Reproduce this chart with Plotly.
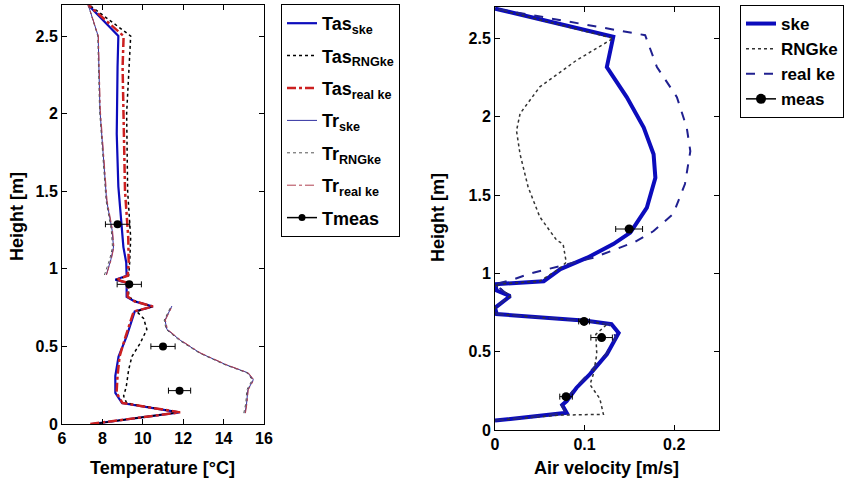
import plotly.graph_objects as go

# ---- left panel: temperature profiles (height in m, temperature in degC)
h_tas_ske = [0, 0.075, 0.135, 0.2, 0.31, 0.435, 0.565, 0.69, 0.725, 0.757, 0.79, 0.82, 0.91, 0.93, 0.955, 1.04, 1.14, 1.53, 1.87, 2.3, 2.5, 2.7]
t_tas_ske = [7.48, 11.8, 8.97, 8.64, 8.64, 8.8, 9.2, 9.54, 9.6, 10.5, 9.6, 9.2, 9.2, 8.64, 9.2, 9.18, 9.04, 8.79, 8.71, 8.75, 8.79, 7.3]

h_tas_rng = [0, 0.075, 0.135, 0.18, 0.24, 0.35, 0.435, 0.52, 0.61, 0.68, 0.725, 0.757, 0.79, 0.82, 0.91, 0.93, 0.955, 1.04, 1.2, 1.5, 2.0, 2.3, 2.5, 2.7]
t_tas_rng = [7.55, 11.75, 9.2, 9.05, 9.18, 9.3, 9.46, 9.87, 10.2, 10.04, 9.7, 10.45, 9.65, 9.3, 9.3, 8.7, 9.3, 9.35, 9.4, 9.25, 9.2, 9.3, 9.4, 7.35]

h_tas_real = [0, 0.075, 0.135, 0.2, 0.31, 0.435, 0.565, 0.69, 0.725, 0.757, 0.79, 0.82, 0.91, 0.93, 0.955, 1.04, 1.2, 1.5, 1.9, 2.3, 2.5, 2.7]
t_tas_real = [7.4, 11.85, 9.0, 8.7, 8.75, 8.85, 9.15, 9.45, 9.55, 10.5, 9.6, 9.25, 9.25, 8.7, 9.25, 9.3, 9.28, 9.12, 9.05, 9.0, 9.05, 7.3]

h_tr = [0.07, 0.135, 0.22, 0.285, 0.33, 0.38, 0.457, 0.54, 0.61, 0.67, 0.76, None, 0.96, 1.06, 1.14, 1.25, 1.44, 2.02, 2.5, 2.7]
t_tr_ske = [15.06, 15.14, 15.2, 15.47, 15.2, 14.15, 12.84, 11.85, 11.19, 11.1, 11.44, None, 8.19, 8.42, 8.55, 8.48, 8.21, 7.88, 7.79, 7.3]
t_tr_rng = [15.0, 15.1, 15.15, 15.42, 15.15, 14.1, 12.8, 11.8, 11.15, 11.06, 11.4, None, 8.1, 8.36, 8.5, 8.44, 8.18, 7.86, 7.77, 7.3]
t_tr_real = [15.08, 15.16, 15.22, 15.5, 15.22, 14.18, 12.87, 11.88, 11.22, 11.12, 11.46, None, 8.2, 8.44, 8.57, 8.5, 8.23, 7.9, 7.8, 7.3]

h_tmeas = [0.215, 0.5, 0.9, 1.287]
t_tmeas = [11.82, 11.0, 9.33, 8.75]
t_tmeas_err = [0.55, 0.6, 0.6, 0.6]

# ---- right panel: air velocity profiles (m/s)
h_ske = [0.06, 0.11, 0.16, 0.185, 0.27, 0.357, 0.485, 0.59, 0.62, 0.675, 0.697, 0.74, 0.78, 0.855, 0.89, 0.93, 0.95, 1.027, 1.1, 1.187, 1.26, 1.42, 1.61, 1.76, 1.93, 2.125, 2.317, 2.51, 2.69]
v_ske = [0, 0.08, 0.075, 0.08, 0.091, 0.106, 0.125, 0.136, 0.138, 0.130, 0.102, 0.002, 0.0, 0.017, 0.002, 0.0, 0.0544, 0.073, 0.103, 0.132, 0.151, 0.1695, 0.179, 0.177, 0.166, 0.147, 0.1248, 0.132, 0.0]

h_rng = [0.06, 0.095, 0.1, 0.2, 0.29, 0.36, 0.485, 0.61, 0.675, 0.697, 0.74, 0.78, 0.855, 0.93, 0.95, 1.03, 1.07, 1.187, 1.21, 1.36, 1.55, 1.76, 1.91, 2.02, 2.19, 2.36, 2.5, 2.69]
v_rng = [0, 0.073, 0.121, 0.117, 0.106, 0.11, 0.1136, 0.1125, 0.125, 0.1, 0.002, 0, 0.017, 0, 0.05, 0.072, 0.0795, 0.076, 0.069, 0.05, 0.037, 0.028, 0.024, 0.028, 0.05, 0.091, 0.132, 0]

h_real = [0.06, 0.11, 0.16, 0.27, 0.485, 0.59, 0.675, 0.697, 0.74, 0.78, 0.855, 0.93, 0.96, 1.0, 1.05, 1.1, 1.2, 1.27, 1.38, 1.57, 1.78, 1.93, 2.125, 2.317, 2.52, 2.69]
v_real = [0, 0.079, 0.074, 0.09, 0.124, 0.135, 0.128, 0.1, 0.002, 0, 0.016, 0, 0.02, 0.04, 0.075, 0.11, 0.156, 0.177, 0.199, 0.212, 0.218, 0.214, 0.203, 0.1807, 0.1676, 0.0]

h_vmeas = [0.213, 0.59, 0.693, 1.283]
v_vmeas = [0.0793, 0.119, 0.0994, 0.1497]
v_vmeas_err = [0.007, 0.012, 0.006, 0.015]

BLUE = "#0c0cbc"
RED = "#cc2020"
W, H = 854, 481
ML, MR, MT, MB = 62, 135, 5, 51
PW, PH = W - ML - MR, H - MT - MB


def fx(px):
    # pixel column -> paper fraction
    return (px - ML) / PW


def fy(py):
    # pixel row -> paper fraction
    return (H - MB - py) / PH


fig = go.Figure()

# left panel
fig.add_trace(go.Scatter(x=t_tas_ske, y=h_tas_ske, mode="lines", name="Tas<sub>ske</sub>", legendgroup="a",
                         line=dict(color=BLUE, width=2.2), legend="legend"))
fig.add_trace(go.Scatter(x=t_tas_rng, y=h_tas_rng, mode="lines", name="Tas<sub>RNGke</sub>", legendgroup="b",
                         line=dict(color="black", width=1.5, dash="dot"), legend="legend"))
fig.add_trace(go.Scatter(x=t_tas_real, y=h_tas_real, mode="lines", name="Tas<sub>real ke</sub>", legendgroup="c",
                         line=dict(color=RED, width=2.5, dash="dashdot"), legend="legend"))
fig.add_trace(go.Scatter(x=t_tr_ske, y=h_tr, mode="lines", name="Tr<sub>ske</sub>", legendgroup="d",
                         line=dict(color="#3030a0", width=1), legend="legend"))
fig.add_trace(go.Scatter(x=t_tr_rng, y=h_tr, mode="lines", name="Tr<sub>RNGke</sub>", legendgroup="e",
                         line=dict(color="#555555", width=1, dash="dot"), legend="legend"))
fig.add_trace(go.Scatter(x=t_tr_real, y=h_tr, mode="lines", name="Tr<sub>real ke</sub>", legendgroup="f",
                         line=dict(color="#b04050", width=1, dash="dashdot"), legend="legend"))
fig.add_trace(go.Scatter(x=t_tmeas, y=h_tmeas, mode="markers", showlegend=False,
                         marker=dict(color="black", size=8),
                         error_x=dict(type="data", array=t_tmeas_err, color="black", thickness=1, width=3)))
fig.add_trace(go.Scatter(x=[None], y=[None], mode="lines+markers", name="Tmeas", legendgroup="g",
                         line=dict(color="black", width=1.5), marker=dict(color="black", size=7),
                         legend="legend"))

# right panel
fig.add_trace(go.Scatter(x=v_ske, y=h_ske, mode="lines", name="ske", xaxis="x2", yaxis="y2", legendgroup="h",
                         line=dict(color=BLUE, width=4), legend="legend2"))
fig.add_trace(go.Scatter(x=v_rng, y=h_rng, mode="lines", name="RNGke", xaxis="x2", yaxis="y2", legendgroup="i",
                         line=dict(color="#333333", width=1.5, dash="dot"), legend="legend2"))
fig.add_trace(go.Scatter(x=v_real, y=h_real, mode="lines", name="real ke", xaxis="x2", yaxis="y2", legendgroup="j",
                         line=dict(color="#202090", width=2, dash="dash"), legend="legend2"))
fig.add_trace(go.Scatter(x=v_vmeas, y=h_vmeas, mode="markers", showlegend=False, xaxis="x2", yaxis="y2",
                         marker=dict(color="black", size=9),
                         error_x=dict(type="data", array=v_vmeas_err, color="black", thickness=1, width=3)))
fig.add_trace(go.Scatter(x=[None], y=[None], mode="lines+markers", name="meas", xaxis="x2", yaxis="y2",
                         legendgroup="k", line=dict(color="black", width=1.5),
                         marker=dict(color="black", size=10), legend="legend2"))

axis_common = dict(showline=True, linecolor="black", linewidth=1, mirror="ticks", automargin=False,
                   ticks="inside", ticklen=5, tickcolor="black", showgrid=False, zeroline=False,
                   tickfont=dict(size=16, color="black", weight="bold"))

legend_common = dict(bordercolor="black", borderwidth=1, bgcolor="white",
                     xanchor="left", yanchor="top")

title_font = dict(size=18, color="black", weight="bold")

fig.update_layout(
    width=W, height=H,
    margin=dict(l=ML, r=MR, t=MT, b=MB, autoexpand=False),
    paper_bgcolor="white", plot_bgcolor="white",
    font=dict(family="Liberation Sans, Arial, sans-serif", color="black"),
    xaxis=dict(axis_common, domain=[fx(62), fx(264)], range=[6, 16], dtick=2, anchor="y"),
    yaxis=dict(axis_common, domain=[fy(424), fy(5)], range=[0, 2.7], dtick=0.5, anchor="x"),
    xaxis2=dict(axis_common, domain=[fx(495), fx(719)], range=[0, 0.25], tickvals=[0, 0.1, 0.2], anchor="y2"),
    yaxis2=dict(axis_common, domain=[fy(430), fy(7)], range=[0, 2.7], dtick=0.5, anchor="x2"),
    legend=dict(legend_common, x=fx(281), y=fy(4), tracegroupgap=6,
                font=dict(size=18, color="black", weight="bold")),
    legend2=dict(legend_common, x=fx(740), y=fy(5), tracegroupgap=0,
                 font=dict(size=17, color="black", weight="bold")),
    annotations=[
        dict(text="Temperature [°C]", xref="paper", yref="paper", x=fx(162), y=fy(468),
             xanchor="center", yanchor="middle", showarrow=False, font=title_font),
        dict(text="Air velocity [m/s]", xref="paper", yref="paper", x=fx(606), y=fy(468),
             xanchor="center", yanchor="middle", showarrow=False, font=title_font),
        dict(text="Height [m]", xref="paper", yref="paper", x=fx(17), y=fy(217), textangle=-90,
             xanchor="center", yanchor="middle", showarrow=False, font=title_font),
        dict(text="Height [m]", xref="paper", yref="paper", x=fx(438), y=fy(218), textangle=-90,
             xanchor="center", yanchor="middle", showarrow=False, font=title_font),
    ],
)

# drop the browser's default body margin so the figure sits at the page corner
fig.write_html("out.html", config={"displayModeBar": False},
               post_script="document.body.style.margin = '0';")
